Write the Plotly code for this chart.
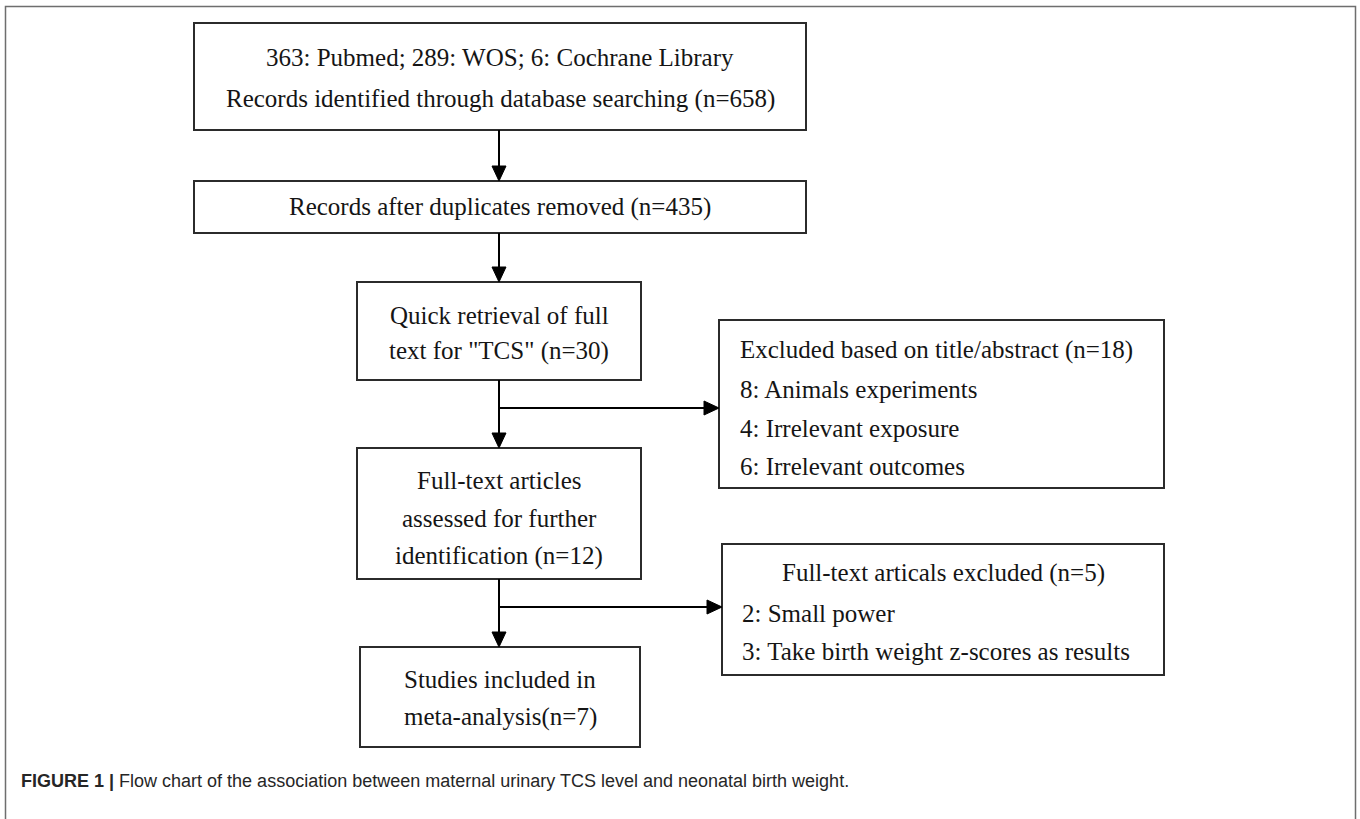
import plotly.graph_objects as go

# ---- data (counts) ----
db_names = ["Pubmed", "WOS", "Cochrane Library"]
db_counts = [363, 289, 6]
n_identified = 658
n_after_dup = 435
n_quick = 30
n_excl_title = 18
excl_title_reasons = ["Animals experiments", "Irrelevant exposure", "Irrelevant outcomes"]
excl_title_counts = [8, 4, 6]
n_fulltext = 12
n_excl_full = 5
excl_full_reasons = ["Small power", "Take birth weight z-scores as results"]
excl_full_counts = [2, 3]
n_included = 7
caption_bold = "FIGURE 1 |"
caption_text = " Flow chart of the association between maternal urinary TCS level and neonatal birth weight."

# ---- text per box ----
box1_lines = ["; ".join(f"{c}: {n}" for n, c in zip(db_names, db_counts)),
              f"Records identified through database searching (n={n_identified})"]
box2_lines = [f"Records after duplicates removed (n={n_after_dup})"]
box3_lines = ["Quick retrieval of full", f'text for "TCS" (n={n_quick})']
box4_lines = ["Full-text articles", "assessed for further", f"identification (n={n_fulltext})"]
box5_lines = [f"Excluded based on title/abstract (n={n_excl_title})"] + \
             [f"{c}: {r}" for r, c in zip(excl_title_reasons, excl_title_counts)]
box6_lines = [f"Full-text articals excluded (n={n_excl_full})"] + \
              [f"{c}: {r}" for r, c in zip(excl_full_reasons, excl_full_counts)]
box7_lines = ["Studies included in", f"meta-analysis(n={n_included})"]

# ---- layout geometry (pixels) ----
W, H = 1360, 819
boxes = {
    "b1": (194, 23, 806, 130),
    "b2": (194, 181, 806, 233),
    "b3": (357, 282, 641, 380),
    "b4": (357, 448, 641, 579),
    "b5": (719, 320, 1164, 488),
    "b6": (722, 544, 1164, 675),
    "b7": (360, 647, 640, 747),
}
CX = 499
FONT = "Liberation Serif, Times New Roman, serif"
FS = 25
EDGE = "#2b2b2b"
TXT = "#151515"

shapes = []
annotations = []

# outer frame (open at bottom)
shapes.append(dict(type="path", path=f"M 5.5,{H+5} L 5.5,6.5 L 1355.5,6.5 L 1355.5,{H+5}",
                   line=dict(color="#6e6e6e", width=1.5)))

for k, (x0, y0, x1, y1) in boxes.items():
    shapes.append(dict(type="rect", x0=x0, y0=y0, x1=x1, y1=y1,
                       line=dict(color=EDGE, width=2), fillcolor="white", layer="above"))


def vline(x, y0, y1):
    shapes.append(dict(type="line", x0=x, y0=y0, x1=x, y1=y1, line=dict(color="black", width=2)))


def hline(y, x0, x1):
    shapes.append(dict(type="line", x0=x0, y0=y, x1=x1, y1=y, line=dict(color="black", width=2)))


def head_down(x, ytip, L=15, w=7):
    shapes.append(dict(type="path", path=f"M {x-w},{ytip-L} L {x+w},{ytip-L} L {x},{ytip} Z",
                       fillcolor="black", line=dict(color="black", width=1)))


def head_right(xtip, y, L=15, w=7):
    shapes.append(dict(type="path", path=f"M {xtip-L},{y-w} L {xtip-L},{y+w} L {xtip},{y} Z",
                       fillcolor="black", line=dict(color="black", width=1)))


# arrows
vline(CX, boxes["b1"][3], boxes["b2"][1] - 10); head_down(CX, boxes["b2"][1])
vline(CX, boxes["b2"][3], boxes["b3"][1] - 10); head_down(CX, boxes["b3"][1])
vline(CX, boxes["b3"][3], boxes["b4"][1] - 10); head_down(CX, boxes["b4"][1])
hline(408, CX, boxes["b5"][0] - 10); head_right(boxes["b5"][0], 408)
vline(CX, boxes["b4"][3], boxes["b7"][1] - 10); head_down(CX, boxes["b7"][1])
hline(607, CX, boxes["b6"][0] - 10); head_right(boxes["b6"][0], 607)


def add_lines(lines, ys, x, anchor="center"):
    for t, y in zip(lines, ys):
        annotations.append(dict(x=x, y=y, text=t, showarrow=False, xanchor=anchor, yanchor="middle",
                                font=dict(family=FONT, size=FS, color=TXT)))


add_lines(box1_lines, [57, 99], 500)
add_lines(box2_lines, [207], 500)
add_lines(box3_lines, [315, 351], 499)
add_lines(box4_lines, [480, 518, 556], 499)
add_lines(box5_lines, [350, 389, 428, 466], 738, "left")
add_lines(box6_lines[:1], [573], 943)
add_lines(box6_lines[1:], [613, 651], 740, "left")
add_lines(box7_lines, [679, 717], 500)

annotations.append(dict(x=19, y=781, xanchor="left", yanchor="middle", showarrow=False,
                        text=f"<b>{caption_bold}</b>{caption_text}",
                        font=dict(family="Liberation Sans, Arial, sans-serif", size=18, color="#262626")))

fig = go.Figure()
fig.update_layout(
    width=W, height=H, margin=dict(l=0, r=0, t=0, b=0),
    paper_bgcolor="white", plot_bgcolor="white",
    xaxis=dict(range=[0, W], visible=False, fixedrange=True),
    yaxis=dict(range=[H, 0], visible=False, fixedrange=True),
    shapes=shapes, annotations=annotations, showlegend=False,
)
fig.write_html("out.html", post_script="document.body.style.margin='0';",
               config={"displayModeBar": False})
